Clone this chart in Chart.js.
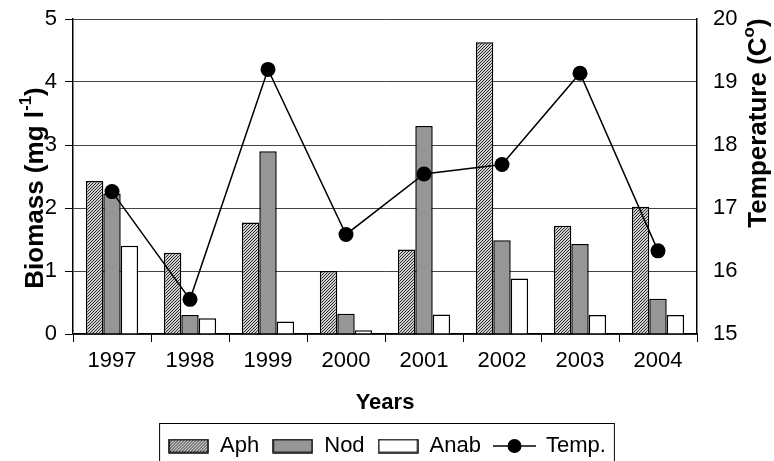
<!DOCTYPE html>
<html>
<head>
<meta charset="utf-8">
<script src="https://cdn.jsdelivr.net/npm/chart.js@4/dist/chart.umd.min.js"></script>
<style>
  html, body { margin: 0; padding: 0; background: #fff; }
  #wrap { width: 774px; height: 461px; }
</style>
</head>
<body>
<div id="wrap"><canvas id="biomassChart" width="774" height="461"></canvas></div>
<script>
const years = ['1997', '1998', '1999', '2000', '2001', '2002', '2003', '2004'];
const aph = [2.43, 1.29, 1.77, 1.0, 1.34, 4.63, 1.72, 2.02];
const nod = [2.23, 0.30, 2.90, 0.32, 3.30, 1.49, 1.43, 0.56];
const anab = [1.40, 0.25, 0.20, 0.06, 0.31, 0.88, 0.30, 0.30];
const temp = [17.26, 15.55, 19.20, 16.58, 17.54, 17.69, 19.14, 16.32];

const FONT = 'Liberation Sans, Arial, sans-serif';

// fine diagonal hatch for the Aph bars
function makeHatch() {
  const c = document.createElement('canvas');
  c.width = 3; c.height = 3;
  const g = c.getContext('2d');
  g.fillStyle = '#cfcfcf';
  g.fillRect(0, 0, 3, 3);
  g.fillStyle = '#2a2a2a';
  g.fillRect(2, 0, 1, 1);
  g.fillRect(1, 1, 1, 1);
  g.fillRect(0, 2, 1, 1);
  return document.createElement('canvas').getContext('2d').createPattern(c, 'repeat');
}
const hatch = makeHatch();

// legend icons
function boxIcon(fill) {
  const c = document.createElement('canvas');
  c.width = 41; c.height = 15;
  const g = c.getContext('2d');
  g.fillStyle = fill;
  g.fillRect(1, 1, 39, 13);
  g.strokeStyle = '#000';
  g.lineWidth = 1.5;
  g.strokeRect(1, 1, 39, 13);
  return c;
}
function lineIcon() {
  const c = document.createElement('canvas');
  c.width = 43; c.height = 16;
  const g = c.getContext('2d');
  g.strokeStyle = '#000';
  g.lineWidth = 1.5;
  g.beginPath(); g.moveTo(0, 8); g.lineTo(43, 8); g.stroke();
  g.fillStyle = '#000';
  g.beginPath(); g.arc(21.5, 8, 7, 0, Math.PI * 2); g.fill();
  return c;
}
const icons = [boxIcon(hatch), boxIcon('#969696'), boxIcon('#ffffff'), lineIcon()];

// axis titles with superscripts, both reading bottom to top
function drawSupTitle(ctx, x, y, main, sup, tail) {
  const big = 'bold 26px ' + FONT;
  const small = 'bold 17px ' + FONT;
  ctx.font = big; const w1 = ctx.measureText(main).width; const w3 = ctx.measureText(tail).width;
  ctx.font = small; const w2 = ctx.measureText(sup).width;
  const total = w1 + w2 + w3;
  ctx.save();
  ctx.translate(x, y);
  ctx.rotate(-Math.PI / 2);
  ctx.fillStyle = '#000';
  ctx.textBaseline = 'alphabetic';
  ctx.textAlign = 'left';
  let cx = -total / 2;
  ctx.font = big; ctx.fillText(main, cx, 0); cx += w1;
  ctx.font = small; ctx.fillText(sup, cx, -12); cx += w2;
  ctx.font = big; ctx.fillText(tail, cx, 0);
  ctx.restore();
}

const extras = {
  id: 'extras',
  afterDraw(chart) {
    const ctx = chart.ctx;
    drawSupTitle(ctx, 43, 188, 'Biomass (mg l', '-1', ')');
    drawSupTitle(ctx, 766, 123, 'Temperature (C', 'o', ')');
    // legend frame
    const boxes = chart.legend.legendHitBoxes;
    if (boxes && boxes.length) {
      const first = boxes[0], last = boxes[boxes.length - 1];
      ctx.save();
      ctx.strokeStyle = '#000';
      ctx.lineWidth = 1;
      ctx.strokeRect(first.left - 8.5, 423.5, last.left + last.width - first.left + 17, 60);
      ctx.restore();
    }
  }
};

new Chart(document.getElementById('biomassChart'), {
  type: 'bar',
  data: {
    labels: years,
    datasets: [
      { label: 'Aph', data: aph, backgroundColor: hatch, borderColor: '#000', borderWidth: 1.5, yAxisID: 'y', order: 1 },
      { label: 'Nod', data: nod, backgroundColor: '#969696', borderColor: '#000', borderWidth: 1.5, yAxisID: 'y', order: 1 },
      { label: 'Anab', data: anab, backgroundColor: '#ffffff', borderColor: '#000', borderWidth: 1.5, yAxisID: 'y', order: 1 },
      {
        type: 'line', label: 'Temp.', data: temp, yAxisID: 'y2', order: 0,
        borderColor: '#000', borderWidth: 1.5, backgroundColor: '#000',
        pointRadius: 7.5, pointBackgroundColor: '#000', pointBorderWidth: 0, tension: 0
      }
    ]
  },
  options: {
    responsive: false,
    animation: false,
    devicePixelRatio: 1,
    // negative bottom padding lets the legend row sit a little lower, as in the original
    layout: { padding: { top: 19, left: 0, right: 0, bottom: -6 } },
    datasets: { bar: { categoryPercentage: 0.67, barPercentage: 1.0 } },
    scales: {
      x: {
        offset: true,
        grid: { offset: true, drawOnChartArea: false, tickLength: 8, color: '#000', lineWidth: 1 },
        border: { color: '#000', width: 1.5 },
        ticks: { color: '#000', font: { family: FONT, size: 22 }, padding: 6 },
        title: { display: true, text: 'Years', color: '#000', font: { family: FONT, size: 22, weight: 'bold' }, padding: { top: 0, bottom: 6 } },
        afterFit(scale) { scale.height = 88; }
      },
      y: {
        position: 'left',
        min: 0, max: 5,
        ticks: { stepSize: 1, color: '#000', font: { family: FONT, size: 22 }, padding: 8 },
        grid: { color: '#444', lineWidth: 1, tickLength: 8, tickColor: '#000' },
        border: { color: '#000', width: 1.5 },
        afterFit(scale) { scale.width = 73; scale.paddingTop = 0; scale.paddingBottom = 0; }
      },
      y2: {
        position: 'right',
        min: 15, max: 20,
        ticks: { stepSize: 1, color: '#000', font: { family: FONT, size: 22 }, padding: 16 },
        grid: { drawOnChartArea: false, drawTicks: false },
        border: { color: '#000', width: 1.5 },
        afterFit(scale) { scale.width = 77; scale.paddingTop = 0; scale.paddingBottom = 0; }
      }
    },
    plugins: {
      legend: {
        position: 'bottom',
        labels: {
          usePointStyle: true,
          pointStyleWidth: 41,
          padding: 13,
          color: '#000',
          font: { family: FONT, size: 22 },
          generateLabels(chart) {
            const items = Chart.defaults.plugins.legend.labels.generateLabels(chart);
            items.sort((a, b) => a.datasetIndex - b.datasetIndex);
            items.forEach(item => { item.pointStyle = icons[item.datasetIndex]; });
            return items;
          }
        }
      },
      tooltip: { enabled: false }
    }
  },
  plugins: [extras]
});
</script>
</body>
</html>
